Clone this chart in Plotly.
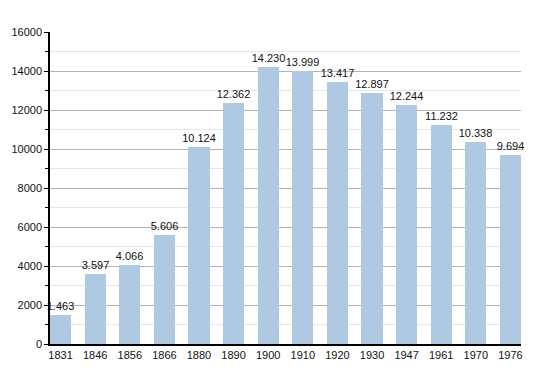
import plotly.graph_objects as go

years = ["1831", "1846", "1856", "1866", "1880", "1890", "1900", "1910",
         "1920", "1930", "1947", "1961", "1970", "1976"]
population = [1463, 3597, 4066, 5606, 10124, 12362, 14230, 13999,
              13417, 12897, 12244, 11232, 10338, 9694]
labels = [f"{v:,}".replace(",", ".") for v in population]

fig = go.Figure(go.Bar(
    x=years, y=population, text=labels, textposition="outside",
    cliponaxis=False, width=0.61,
    marker=dict(color="#b0c9e3", line=dict(width=0)),
    textfont=dict(family="Liberation Sans, Arial", size=11, color="#111"),
))

fig.update_layout(
    width=542, height=365,
    margin=dict(l=42, r=29, t=24, b=29, autoexpand=False),
    paper_bgcolor="white", plot_bgcolor="white",
    showlegend=False,
    font=dict(family="Liberation Sans, Arial", size=11, color="#111"),
    bargap=0,
    uniformtext=dict(minsize=11, mode="show"),
)
fig.update_xaxes(
    type="category", range=[-0.305, 13.305], automargin=False,
    showline=True, linecolor="black", linewidth=1.5,
    ticks="", showgrid=False, tickfont=dict(size=11),
)
fig.update_yaxes(
    range=[0, 16000], dtick=2000, tick0=0, tickformat="d", automargin=False,
    showline=True, linecolor="black", linewidth=1.5,
    ticks="outside", ticklen=4, tickcolor="black",
    showgrid=True, gridcolor="#b4b4b4", gridwidth=1,
    zeroline=False,
    minor=dict(dtick=1000, showgrid=True, gridcolor="#e6e6e6",
               ticks="outside", ticklen=3, tickcolor="black"),
    tickfont=dict(size=11),
)

fig.write_html("out.html")
